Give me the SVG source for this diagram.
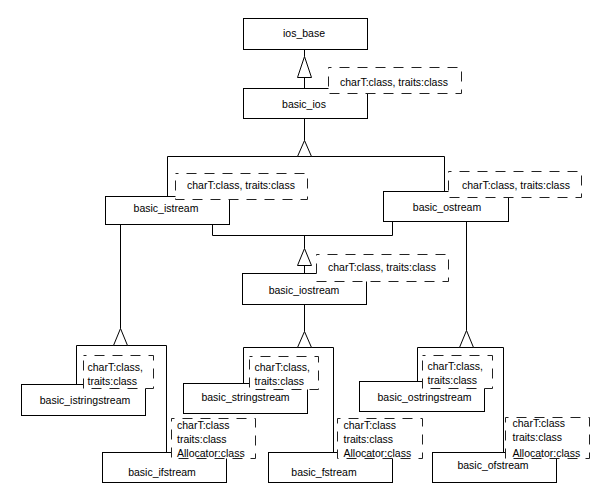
<svg xmlns="http://www.w3.org/2000/svg" width="592" height="499" viewBox="0 0 592 499">
<style>
.box{fill:#fff;stroke:#000;stroke-width:1}
.tmpl{fill:#fff;stroke:#222;stroke-width:1;stroke-dasharray:10 8;stroke-dashoffset:7}
.lbl{font-family:"Liberation Sans",Arial,sans-serif;font-size:10.5px;fill:#000;text-anchor:middle}
.tl{font-family:"Liberation Sans",Arial,sans-serif;font-size:10.5px;fill:#000}
.tc{font-family:"Liberation Sans",Arial,sans-serif;font-size:10.5px;fill:#000;text-anchor:middle}
.ln{fill:none;stroke:#000;stroke-width:1}
.tri{fill:#fff;stroke:#000;stroke-width:1}
</style>
<rect width="592" height="499" fill="#fff"/>
<g id="connectors">
  <path class="ln" d="M304.5 49.5V56.5M304.5 77.5V88.5"/>
  <polygon class="tri" points="304.5,56.5 297.5,77.5 311.5,77.5"/>
  <path class="ln" d="M304.5 118.5V140.5M167.5 156.5H444.5M167.5 156.5V196.5M444.5 156.5V191.5"/>
  <polygon class="tri" points="304.5,140.5 297.5,156.5 311.5,156.5"/>
  <path class="ln" d="M212.5 224.5V235.5H392.5V221.5M304.5 235.5V248.5M304.5 265.5V273.5"/>
  <polygon class="tri" points="304.5,248.5 297.5,265.5 311.5,265.5"/>
  <path class="ln" d="M120.5 224.5V328.5M76.5 345.5H166.5M76.5 345.5V384.5M166.5 345.5V452.5"/>
  <polygon class="tri" points="120.5,328.5 113.5,345.5 127.5,345.5"/>
  <path class="ln" d="M304.5 304.5V331.5M243.5 347.5H333.5M243.5 347.5V383.5M333.5 347.5V452.5"/>
  <polygon class="tri" points="304.5,331.5 297.5,347.5 311.5,347.5"/>
  <path class="ln" d="M466.5 221.5V330.5M417.5 347.5H503.5M417.5 347.5V381.5M503.5 347.5V452.5"/>
  <polygon class="tri" points="466.5,330.5 459.5,347.5 473.5,347.5"/>
</g>
<g id="ios_base"><rect class="box" x="243.5" y="18.5" width="124" height="31"/><text class="lbl" x="304" y="36.5">ios_base</text></g>
<g id="basic_ios"><rect class="box" x="243.5" y="88.5" width="124" height="30"/><text class="lbl" x="304" y="108">basic_ios</text>
  <rect class="tmpl" x="328.5" y="67.5" width="133" height="26"/><text class="tc" x="394" y="85.5">charT:class, traits:class</text></g>
<g id="basic_istream"><rect class="box" x="105.5" y="196.5" width="124" height="28"/><text class="lbl" x="166" y="212">basic_istream</text>
  <rect class="tmpl" x="175.5" y="173.5" width="132" height="26"/><text class="tc" x="241" y="189">charT:class, traits:class</text></g>
<g id="basic_ostream"><rect class="box" x="383.5" y="191.5" width="125" height="30"/><text class="lbl" x="447" y="210.5">basic_ostream</text>
  <rect class="tmpl" x="448.5" y="171.5" width="133" height="26"/><text class="tc" x="516" y="188.5">charT:class, traits:class</text></g>
<g id="basic_iostream"><rect class="box" x="242.5" y="273.5" width="124" height="31"/><text class="lbl" x="304" y="294">basic_iostream</text>
  <rect class="tmpl" x="316.5" y="254.5" width="132" height="27"/><text class="tc" x="382" y="270.5">charT:class, traits:class</text></g>
<g id="basic_istringstream"><rect class="box" x="21.5" y="384.5" width="124" height="31"/><text class="lbl" x="85" y="404">basic_istringstream</text>
  <rect class="tmpl" x="83.5" y="355.5" width="70" height="33"/><text class="tl" x="87.5" y="370.5">charT:class,</text><text class="tl" x="87.5" y="384.5">traits:class</text></g>
<g id="basic_stringstream"><rect class="box" x="183.5" y="383.5" width="124" height="30"/><text class="lbl" x="245.5" y="401">basic_stringstream</text>
  <rect class="tmpl" x="249.5" y="356.5" width="69" height="33"/><text class="tl" x="254.5" y="370.5">charT:class,</text><text class="tl" x="254.5" y="384.5">traits:class</text></g>
<g id="basic_ostringstream"><rect class="box" x="359.5" y="381.5" width="125" height="30"/><text class="lbl" x="424.5" y="400.5">basic_ostringstream</text>
  <rect class="tmpl" x="422.5" y="355.5" width="70" height="33"/><text class="tl" x="427.5" y="369.5">charT:class,</text><text class="tl" x="427.5" y="384">traits:class</text></g>
<g id="basic_ifstream"><rect class="box" x="102.5" y="452.5" width="124" height="30"/><text class="lbl" x="162" y="475.5">basic_ifstream</text>
  <rect class="tmpl" x="171.5" y="418.5" width="84" height="40"/><text class="tl" x="177" y="429">charT:class</text><text class="tl" x="177" y="443">traits:class</text><text class="tl" x="177" y="457">Allocator:class</text></g>
<g id="basic_fstream"><rect class="box" x="268.5" y="452.5" width="124" height="30"/><text class="lbl" x="324" y="475.5">basic_fstream</text>
  <rect class="tmpl" x="337.5" y="418.5" width="85" height="40"/><text class="tl" x="343.5" y="428.5">charT:class</text><text class="tl" x="343.5" y="442.5">traits:class</text><text class="tl" x="343.5" y="457">Allocator:class</text></g>
<g id="basic_ofstream"><rect class="box" x="432.5" y="452.5" width="124" height="30"/><text class="lbl" x="493" y="469">basic_ofstream</text>
  <rect class="tmpl" x="505.5" y="417.5" width="84" height="41"/><text class="tl" x="512.5" y="427">charT:class</text><text class="tl" x="512.5" y="441">traits:class</text><text class="tl" x="512.5" y="456.5">Allocator:class</text></g>
</svg>
